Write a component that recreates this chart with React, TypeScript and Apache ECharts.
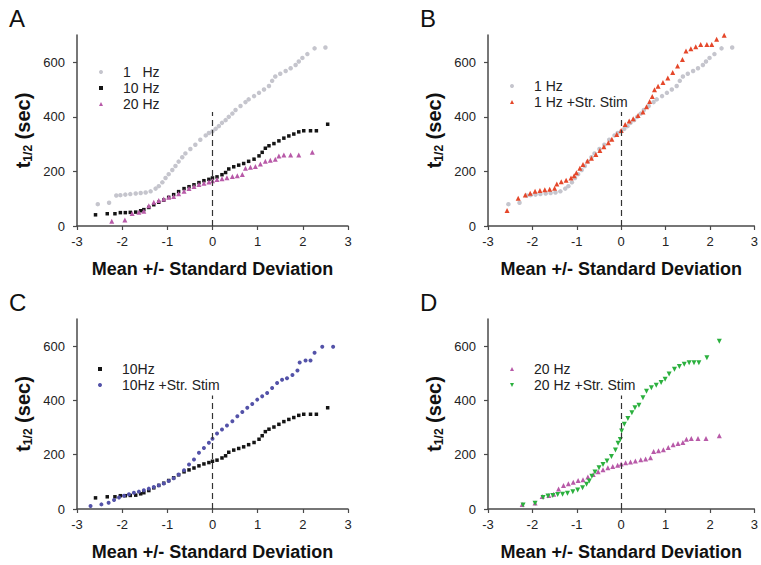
import React, { useEffect, useRef } from "react";
import * as echarts from "echarts";

// ---- data: [z-score, t1/2 (sec)] ----
const hz1: number[][] = [
  [-2.54, 80], [-2.29, 85], [-2.13, 112], [-2.04, 113], [-1.93, 115], [-1.82, 117], [-1.7, 119],
  [-1.59, 121], [-1.48, 123], [-1.37, 127], [-1.26, 137], [-1.19, 146], [-1.11, 160], [-1.04, 176],
  [-0.97, 190], [-0.89, 205], [-0.82, 220], [-0.75, 236], [-0.67, 252], [-0.6, 266], [-0.49, 282],
  [-0.38, 298], [-0.27, 316], [-0.15, 332], [-0.08, 341], [0, 347], [0.07, 356], [0.14, 366],
  [0.21, 378], [0.29, 388], [0.36, 400], [0.44, 412], [0.51, 425], [0.62, 440], [0.73, 454],
  [0.8, 464], [0.92, 476], [1.03, 488], [1.14, 500], [1.25, 513], [1.32, 532], [1.39, 548],
  [1.5, 558], [1.62, 568], [1.73, 578], [1.84, 590], [1.91, 603], [1.99, 616], [2.1, 630],
  [2.26, 651], [2.5, 654],
];

const hz10: number[][] = [
  [-2.59, 41], [-2.33, 45], [-2.16, 45], [-2.04, 49], [-1.93, 49], [-1.82, 50], [-1.7, 51],
  [-1.59, 56], [-1.52, 60], [-1.41, 68], [-1.3, 78], [-1.19, 87], [-1.08, 95], [-0.97, 105],
  [-0.86, 115], [-0.75, 126], [-0.63, 137], [-0.52, 144], [-0.41, 151], [-0.3, 159], [-0.19, 166],
  [-0.08, 171], [0, 176], [0.1, 180], [0.21, 188], [0.29, 196], [0.36, 209], [0.47, 217],
  [0.58, 223], [0.69, 229], [0.8, 237], [0.92, 245], [1.03, 257], [1.1, 270], [1.17, 285],
  [1.25, 294], [1.36, 302], [1.47, 312], [1.58, 322], [1.69, 330], [1.8, 337], [1.91, 345],
  [2.02, 349], [2.17, 349], [2.3, 349], [2.55, 373],
];

const hz20: number[][] = [
  [-2.23, 17], [-1.94, 22], [-1.78, 46], [-1.63, 50], [-1.52, 54], [-1.41, 74], [-1.3, 87],
  [-1.19, 93], [-1.08, 99], [-0.97, 105], [-0.86, 108], [-0.75, 118], [-0.63, 127], [-0.52, 137],
  [-0.41, 145], [-0.3, 152], [-0.19, 157], [-0.08, 161], [0, 166], [0.1, 170], [0.21, 173],
  [0.32, 177], [0.44, 181], [0.55, 184], [0.66, 189], [0.73, 212], [0.84, 215], [0.95, 218],
  [1.06, 227], [1.17, 237], [1.28, 241], [1.39, 245], [1.47, 257], [1.58, 260], [1.73, 260],
  [1.91, 260], [2.21, 270],
];

const hz1Stim: number[][] = [
  [-2.57, 57], [-2.32, 102], [-2.16, 114], [-2.05, 120], [-1.94, 127], [-1.83, 130], [-1.72, 133],
  [-1.61, 135], [-1.5, 138], [-1.45, 154], [-1.35, 162], [-1.24, 168], [-1.13, 176], [-1.06, 184],
  [-1.01, 195], [-0.93, 212], [-0.86, 225], [-0.76, 238], [-0.67, 248], [-0.57, 262], [-0.48, 277],
  [-0.39, 290], [-0.29, 305], [-0.21, 318], [-0.1, 335], [0, 350], [0.09, 372], [0.18, 385],
  [0.27, 393], [0.38, 405], [0.49, 418], [0.57, 437], [0.64, 456], [0.7, 475], [0.75, 499],
  [0.83, 512], [0.94, 526], [1.05, 542], [1.16, 563], [1.27, 586], [1.38, 610], [1.46, 641],
  [1.57, 650], [1.68, 657], [1.79, 665], [1.93, 665], [2.04, 665], [2.15, 684], [2.32, 699],
  [2.58, 702],
];

const hz10Stim: number[][] = [
  [-2.7, 11], [-2.46, 17], [-2.3, 23], [-2.18, 33], [-2.07, 42], [-1.96, 49], [-1.85, 54],
  [-1.74, 60], [-1.63, 64], [-1.52, 69], [-1.41, 75], [-1.3, 81], [-1.19, 87], [-1.08, 94],
  [-0.97, 103], [-0.86, 113], [-0.75, 127], [-0.63, 143], [-0.52, 164], [-0.41, 182], [-0.3, 207],
  [-0.19, 225], [-0.08, 244], [0, 259], [0.1, 278], [0.21, 293], [0.32, 308], [0.44, 323],
  [0.55, 342], [0.66, 357], [0.77, 373], [0.88, 387], [0.99, 403], [1.1, 415], [1.21, 427],
  [1.32, 446], [1.43, 464], [1.54, 476], [1.65, 482], [1.77, 494], [1.88, 510], [1.93, 540],
  [2.06, 547], [2.17, 547], [2.26, 576], [2.43, 598], [2.67, 598],
];

const hz20Stim: number[][] = [
  [-2.21, 15], [-1.94, 21], [-1.76, 42], [-1.65, 48], [-1.54, 50], [-1.43, 53], [-1.32, 54],
  [-1.21, 58], [-1.09, 64], [-0.98, 70], [-0.87, 78], [-0.78, 91], [-0.72, 103], [-0.66, 121],
  [-0.59, 136], [-0.5, 152], [-0.41, 164], [-0.32, 177], [-0.22, 193], [-0.13, 217], [-0.07, 242],
  [-0.02, 256], [0.01, 287], [0.07, 312], [0.15, 333], [0.24, 355], [0.31, 373], [0.4, 382],
  [0.49, 410], [0.57, 434], [0.68, 447], [0.79, 456], [0.9, 466], [0.99, 478], [1.08, 497],
  [1.2, 515], [1.31, 525], [1.42, 533], [1.53, 539], [1.64, 539], [1.75, 539], [1.93, 557],
  [2.21, 618],
];

const panelLabels = ["A", "B", "C", "D"];
const xRange = [-3, 3];
const yRange = [0, 700];
const dashTop = 418;

const FONT = "Arial, 'Liberation Sans', Helvetica, sans-serif";
const AXIS = "#4a4a4a";
const C1 = "#c5c5cd";
const C10 = "#141414";
const C20 = "#b85aa8";
const C1S = "#e5472a";
const C10S = "#5352a8";
const C20S = "#2bb03e";

const SQUARE = "path://M0,0h2v2h-2z";
const TRI_UP = "path://M1,0L2,2L0,2Z";
const TRI_DN = "path://M0,0L2,0L1,2Z";

export default function App() {
  const ref = useRef<HTMLDivElement>(null);

  useEffect(() => {
    document.body.style.margin = "0";
    const chart = echarts.init(ref.current!, null, { renderer: "svg" });

    const grids = [
      { left: 77, top: 35, width: 271, height: 191 },
      { left: 488, top: 35, width: 271, height: 191 },
      { left: 77, top: 319, width: 271, height: 190 },
      { left: 488, top: 319, width: 271, height: 190 },
    ];

    const mkLine = () => ({ show: true, onZero: false, lineStyle: { color: AXIS, width: 1.5 } });
    const mkTick = () => ({ show: true, inside: false, length: 4, lineStyle: { color: AXIS, width: 1.2 } });

    const xAxes = grids.map((_, i) => ({
      type: "value",
      gridIndex: i,
      position: "bottom",
      min: xRange[0],
      max: xRange[1],
      interval: 1,
      splitLine: { show: false },
      axisLine: mkLine(),
      axisTick: mkTick(),
      axisLabel: { color: "#222", fontSize: 13, fontFamily: FONT, margin: 9 },
      name: "Mean +/- Standard Deviation",
      nameLocation: "middle",
      nameGap: 34,
      nameTextStyle: { color: "#111", fontSize: 18, fontWeight: "bold", fontFamily: FONT },
    }));

    const yAxes = grids.map((_, i) => ({
      type: "value",
      gridIndex: i,
      position: "left",
      min: yRange[0],
      max: yRange[1],
      interval: 200,
      splitLine: { show: false },
      axisLine: mkLine(),
      axisTick: mkTick(),
      axisLabel: { color: "#222", fontSize: 13, fontFamily: FONT, margin: 12, showMaxLabel: false },
      name: "{t|t}{s|1/2}{t| (sec)}",
      nameLocation: "middle",
      nameRotate: 90,
      nameGap: 43,
      nameTextStyle: {
        color: "#111",
        fontFamily: FONT,
        rich: {
          t: { fontSize: 20, fontWeight: "bold", fontFamily: FONT, color: "#111" },
          s: { fontSize: 12, fontWeight: "bold", fontFamily: FONT, color: "#111", padding: [10, 0, 0, 0] },
        },
      },
    }));

    const dash = {
      silent: true,
      symbol: "none",
      label: { show: false },
      lineStyle: { type: [6, 4], color: "#333", width: 1.2 },
      data: [[{ coord: [0, 0] }, { coord: [0, dashTop] }]],
    };

    const sc = (name: string, data: number[][], idx: number, color: string, symbol: string, size: number, extra: any = {}) => ({
      type: "scatter",
      name,
      data,
      xAxisIndex: idx,
      yAxisIndex: idx,
      symbol,
      symbolSize: size,
      itemStyle: { color, opacity: 1 },
      ...extra,
    });

    const series = [
      sc("1   Hz", hz1, 0, C1, "circle", 4.5, { markLine: dash }),
      sc("10 Hz", hz10, 0, C10, "rect", 3.5),
      sc("20 Hz", hz20, 0, C20, "triangle", 5),
      sc("1 Hz", hz1, 1, C1, "circle", 4.5, { markLine: dash }),
      sc("1 Hz +Str. Stim", hz1Stim, 1, C1S, "triangle", 5),
      sc("10Hz", hz10, 2, C10, "rect", 3.5, { markLine: dash }),
      sc("10Hz +Str. Stim", hz10Stim, 2, C10S, "circle", 4),
      sc("20 Hz", hz20, 3, C20, "triangle", 5, { markLine: dash }),
      sc("20 Hz +Str. Stim", hz20Stim, 3, C20S, "triangle", 5, { symbolRotate: 180 }),
    ];

    const legendBase = {
      orient: "vertical",
      padding: 0,
      itemGap: 2,
      itemWidth: 34,
      itemHeight: 4,
      selectedMode: false,
      textStyle: { color: "#222", fontSize: 14, fontFamily: FONT },
    };

    const legend = [
      {
        ...legendBase, left: 99, top: 65,
        data: [{ name: "1   Hz", icon: "circle" }, { name: "10 Hz", icon: SQUARE }, { name: "20 Hz", icon: TRI_UP }],
      },
      {
        ...legendBase, left: 510, top: 79,
        data: [{ name: "1 Hz", icon: "circle" }, { name: "1 Hz +Str. Stim", icon: TRI_UP }],
      },
      {
        ...legendBase, left: 98, top: 362,
        data: [{ name: "10Hz", icon: SQUARE }, { name: "10Hz +Str. Stim", icon: "circle" }],
      },
      {
        ...legendBase, left: 510, top: 362,
        data: [{ name: "20 Hz", icon: TRI_UP }, { name: "20 Hz +Str. Stim", icon: TRI_DN }],
      },
    ];

    const labelPos = [
      [9, 6],
      [420, 6],
      [9, 290],
      [420, 290],
    ];

    chart.setOption({
      animation: false,
      backgroundColor: "#fff",
      grid: grids,
      xAxis: xAxes,
      yAxis: yAxes,
      legend,
      series,
      graphic: panelLabels.map((t, i) => ({
        type: "text",
        left: labelPos[i][0],
        top: labelPos[i][1],
        style: { text: t, fontSize: 24, fontFamily: FONT, fill: "#111" },
      })),
    });

    return () => chart.dispose();
  }, []);

  return <div ref={ref} style={{ width: 761, height: 565 }} />;
}
